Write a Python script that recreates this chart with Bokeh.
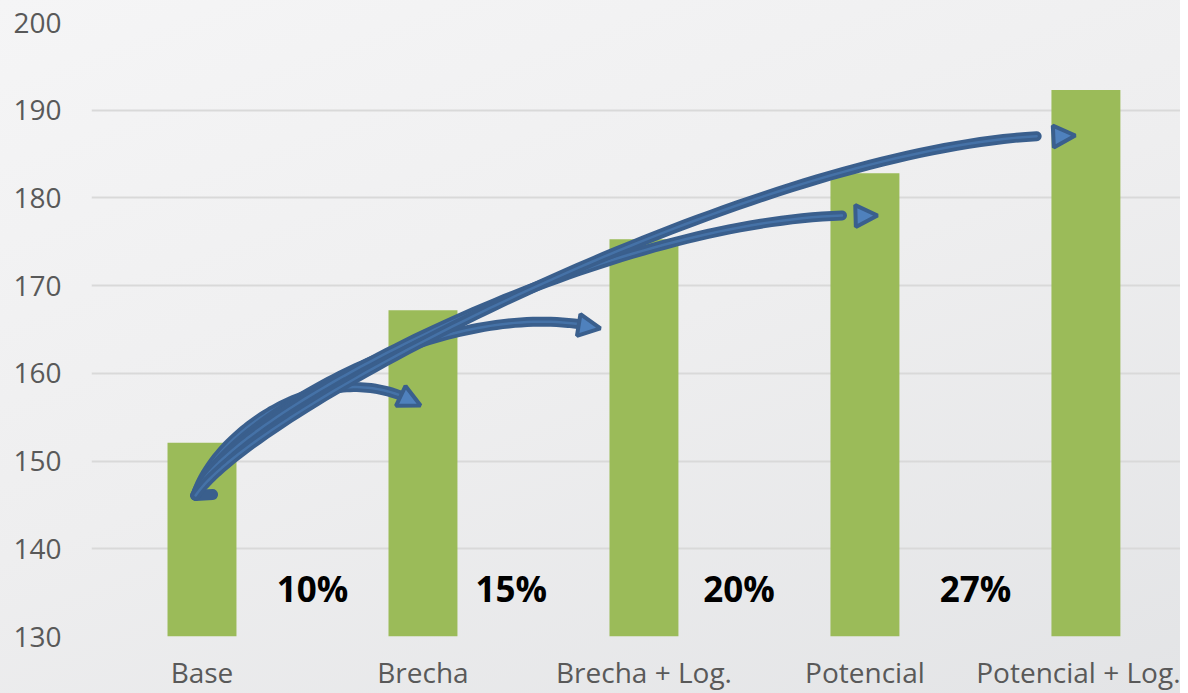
import numpy as np
from bokeh.plotting import figure
from bokeh.models import Range1d, FixedTicker, Arrow, NormalHead, ColumnDataSource, InlineStyleSheet
from bokeh.core.properties import value
from bokeh.embed import file_html
from bokeh.resources import INLINE

# ---- data ----
categories = ["Base", "Brecha", "Brecha + Log.", "Potencial", "Potencial + Log."]
values = [152.1, 167.2, 175.3, 182.8, 192.3]
y_ticks = [130, 140, 150, 160, 170, 180, 190, 200]
pct_labels = ["10%", "15%", "20%", "27%"]
pct_x = [0.5, 1.4, 2.43, 3.5]
pct_y = [135.5, 135.5, 135.5, 135.5]

# curved arrows (cubic Bezier in data units) from the Base bar to each later bar
arrow_start_x = -0.029
arrow_start_y = 146.08
arrow_tail_x = 0.048
arrow_tail_y = 146.19
arrow_c1_x = [0.061, 0.106, 0.061, 0.265]
arrow_c1_y = [153.49, 154.63, 154.63, 156.91]
arrow_c2_x = [0.581, 1.124, 1.894, 2.708]
arrow_c2_y = [162.61, 169.45, 179.14, 187.92]
arrow_end_x = [0.989, 1.803, 3.057, 3.952]
arrow_end_y = [156.34, 165.12, 178.0, 187.12]

FONT = "Open Sans"
DARK = "#3A5F8D"
LIGHT = "#4F81BD"

p = figure(
    frame_width=1089, frame_height=614,
    min_border_left=91, min_border_right=0, min_border_top=22, min_border_bottom=57,
    x_range=Range1d(-0.5, 4.428), y_range=Range1d(130, 200),
    output_backend="svg", toolbar_location=None,
)
p.stylesheets = [InlineStyleSheet(css=":host { background: linear-gradient(160deg, #f5f5f6 0%, #eeeeef 50%, #e3e4e6 100%); }")]
p.background_fill_alpha = 0
p.border_fill_alpha = 0
p.outline_line_color = None

# bars
src = ColumnDataSource(dict(x=list(range(len(categories))), top=values))
p.vbar(x="x", top="top", bottom=130, width=0.312, source=src, fill_color="#9BBB59", line_color=None)

# arrows
def bez(i, t):
    x = ((1 - t) ** 3 * arrow_start_x + 3 * (1 - t) ** 2 * t * arrow_c1_x[i]
         + 3 * (1 - t) * t ** 2 * arrow_c2_x[i] + t ** 3 * arrow_end_x[i])
    y = ((1 - t) ** 3 * arrow_start_y + 3 * (1 - t) ** 2 * t * arrow_c1_y[i]
         + 3 * (1 - t) * t ** 2 * arrow_c2_y[i] + t ** 3 * arrow_end_y[i])
    return x, y

p.line([arrow_start_x, arrow_tail_x], [arrow_start_y, arrow_tail_y], line_width=11, line_color=DARK, line_cap="round")
for i in range(len(arrow_end_x)):
    t = np.linspace(0, 0.955, 80)
    xs, ys = bez(i, t)
    p.line(xs, ys, line_width=10, line_color=DARK, line_cap="round", line_join="round")
    p.line(xs, ys, line_width=2.5, line_color=LIGHT, line_alpha=0.55, line_cap="round")
    xa, ya = bez(i, 0.92)
    xb, yb = bez(i, 1.0)
    p.add_layout(Arrow(end=NormalHead(size=22, fill_color=LIGHT, line_color=DARK, line_width=4),
                       x_start=float(xa), y_start=float(ya), x_end=float(xb), y_end=float(yb),
                       line_alpha=0, line_width=1))

# percentage labels
p.text(x=pct_x, y=pct_y, text=pct_labels, text_font=value(FONT), text_font_style="bold",
       text_font_size="35px", text_color="#000000", text_align="center", text_baseline="middle")

# axes
p.xaxis.ticker = FixedTicker(ticks=list(range(len(categories))))
p.xaxis.major_label_overrides = {i: c for i, c in enumerate(categories)}
p.yaxis.ticker = FixedTicker(ticks=y_ticks)
for ax in (p.xaxis[0], p.yaxis[0]):
    ax.axis_line_color = None
    ax.major_tick_line_color = None
    ax.minor_tick_line_color = None
    ax.major_tick_in = 0
    ax.major_tick_out = 0
    ax.major_label_text_font = FONT
    ax.major_label_text_font_size = "28px"
    ax.major_label_text_color = "#595959"
p.yaxis.major_label_standoff = 30
p.xaxis.major_label_standoff = 16

p.xgrid.grid_line_color = None
p.ygrid.ticker = FixedTicker(ticks=y_ticks)
p.ygrid.grid_line_color = "#D9D9D9"
p.ygrid.grid_line_width = 2

open("out.html", "w").write(file_html(p, INLINE))
